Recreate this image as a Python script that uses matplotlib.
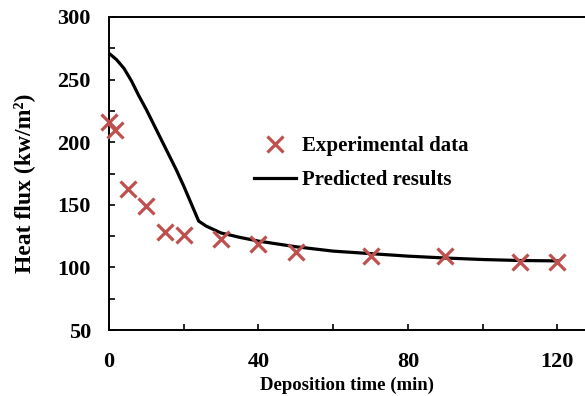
import matplotlib
matplotlib.use("Agg")
import matplotlib.pyplot as plt
from matplotlib.ticker import MultipleLocator

plt.rcParams['font.family'] = ['Liberation Serif', 'DejaVu Serif']
plt.rcParams['font.weight'] = 'bold'

# experimental data
exp_t = [0, 1.5, 5, 10, 15, 20, 30, 40, 50, 70, 90, 110, 120]
exp_q = [216, 210, 163, 149, 128, 126, 122.5, 119, 112.5, 109, 109, 104, 104]

# predicted results
pred_t = [0, 2, 4, 6, 8, 10, 12, 14, 16, 18, 20, 22, 24, 26, 30, 35, 40,
          50, 60, 70, 80, 90, 100, 110, 120]
pred_q = [271, 266, 259, 249, 237, 226, 214, 202, 190, 178, 165, 151, 137,
          133, 127.5, 124, 121, 116.5, 113, 111, 109, 107.5, 106.3, 105.5, 105.2]

red = '#C0504D'

fig = plt.figure(figsize=(5.85, 3.96), dpi=100)
ax = fig.add_axes([109/585, 1 - 330/396, 1 - 109/585, (330 - 17)/396])

ax.plot(exp_t, exp_q, linestyle='none', marker='x', color=red,
        markersize=11, markeredgewidth=2.3, label='Experimental data', clip_on=False, zorder=3)
ax.plot(pred_t, pred_q, color='black', linewidth=2.3, label='Predicted results', zorder=2)

ax.set_xlim(0, 127.4)
ax.set_ylim(50, 300)
ax.xaxis.set_major_locator(MultipleLocator(40))
ax.xaxis.set_minor_locator(MultipleLocator(20))
ax.yaxis.set_major_locator(MultipleLocator(50))
ax.yaxis.set_minor_locator(MultipleLocator(25))
ax.tick_params(which='both', direction='in', length=4, width=1.2)
ax.tick_params(axis='x', which='major', pad=16, labelsize=16)
ax.tick_params(axis='y', which='major', pad=13, labelsize=16)

for s in ['left', 'bottom', 'top']:
    ax.spines[s].set_linewidth(1.4)
ax.spines['right'].set_visible(False)

ax.set_xlabel('Deposition time (min)', fontsize=13.5, fontweight='bold', labelpad=3)
ax.set_ylabel('Heat flux (kw/m²)', fontsize=17, fontweight='bold')
ax.yaxis.set_label_coords(-0.155, 0.47)

ax.legend(loc='upper left', bbox_to_anchor=(0.265, 0.68), frameon=False, fontsize=15,
          handlelength=2.0, handletextpad=0.3, labelspacing=0.7)

fig.savefig('out.png', dpi=100)
